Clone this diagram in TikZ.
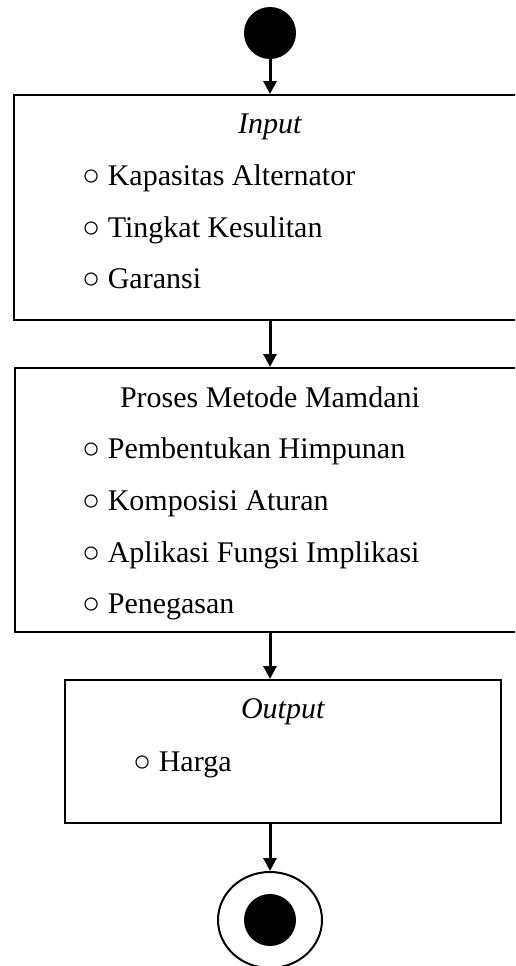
\documentclass[tikz,border=0pt]{standalone}
\usepackage{fontspec}
\setmainfont{Liberation Serif}
\usetikzlibrary{positioning,arrows.meta,shapes.geometric}

\begin{document}
\begin{tikzpicture}[x=1pt,y=1pt,
			box/.style={draw, rectangle, line width=2pt, inner sep=0pt},
			title/.style={anchor=base, inner sep=0pt, font=\fontsize{30}{36}\selectfont},
			item/.style={anchor=base west, inner sep=0pt, font=\fontsize{30}{36}\selectfont},
			dot/.style={circle, fill, inner sep=0pt, minimum size=52pt},
			arrow/.style={-{Triangle[width=13pt,length=13pt]}, line width=3pt}]
			\clip (0,0) rectangle (515,-966);
			
			\node[dot] (start) at (270,-33) {};
			
			\node[box, minimum width=512pt, minimum height=225pt] (input) at (270,-207.5) {};
			\node[title] (inputT) at (270,-133) {\textit{Input}};
			\node[item] (in1) at (82,-185.5) {○ Kapasitas Alternator};
			\node[item] (in2) at (82,-237) {○ Tingkat Kesulitan};
			\node[item] (in3) at (82,-288.5) {○ Garansi};
			
			\node[box, minimum width=510pt, minimum height=264pt] (proses) at (270,-500) {};
			\node[title] (prosesT) at (270,-407) {Proses Metode Mamdani};
			\node[item] (pr1) at (82,-458) {○ Pembentukan Himpunan};
			\node[item] (pr2) at (82,-510) {○ Komposisi Aturan};
			\node[item] (pr3) at (82,-562) {○ Aplikasi Fungsi Implikasi};
			\node[item] (pr4) at (82,-613) {○ Penegasan};
			
			\node[box, minimum width=436pt, minimum height=143pt] (output) at (283,-751.5) {};
			\node[title] (outputT) at (283,-718) {\textit{Output}};
			\node[item] (out1) at (133,-771) {○ Harga};
			
			\node[ellipse, draw, line width=2pt, minimum width=104pt, minimum height=96pt] (finish) at (270,-920) {};
			\node[dot] (finishDot) at (finish.center) {};
			
			\draw[arrow] (start) -- (input);
			\draw[arrow] (input) -- (proses);
			\draw[arrow] (proses.south) -- (proses.south |- output.north);
			\draw[arrow] (proses.south |- output.south) -- (finish);
			
		\end{tikzpicture}
\end{document}
